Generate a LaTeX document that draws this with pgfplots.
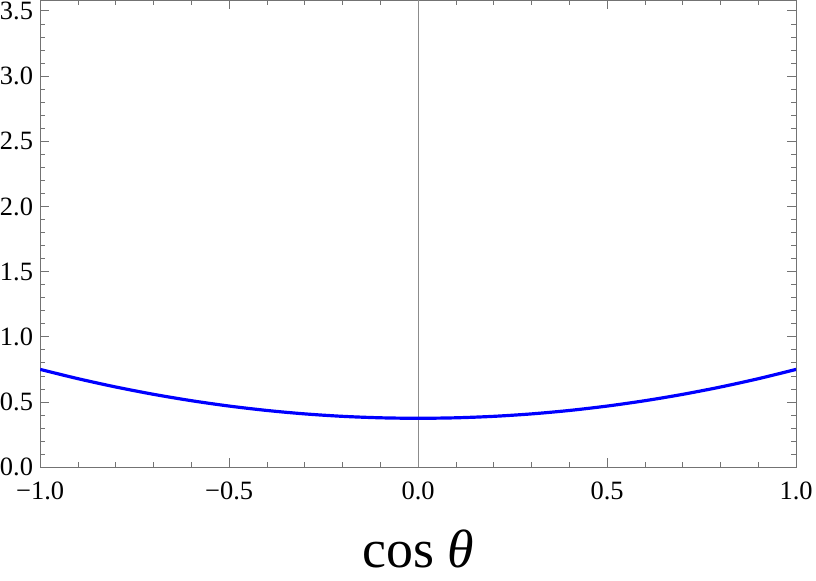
\documentclass[border=0pt]{standalone}
\usepackage{fontspec}
\setmainfont{Liberation Serif}
\usepackage{pgfplots}
\pgfplotsset{compat=1.18}
\begin{document}
\begin{tikzpicture}
\begin{axis}[
    scale only axis,
    width=758pt, height=468pt,
    xmin=-1, xmax=1, ymin=0, ymax=3.58,
    axis line style={black!55, line width=0.9pt},
    xtick={-1,-0.5,0,0.5,1},
    xticklabels={−1.0,−0.5,0.0,0.5,1.0},
    ytick={0,0.5,1,1.5,2,2.5,3,3.5},
    yticklabels={0.0,0.5,1.0,1.5,2.0,2.5,3.0,3.5},
    minor x tick num=4, minor y tick num=4,
    tick align=inside,
    major tick length=9pt, minor tick length=5pt,
    every tick/.style={black!55, line width=0.8pt},
    ticklabel style={font=\fontsize{26.5}{28}\selectfont},
    xticklabel style={anchor=base, yshift=-32pt},
    yticklabel style={anchor=east, inner sep=0pt, xshift=-7pt},
    xlabel={cos \textit{θ}},
    xlabel style={font=\fontsize{54}{58}\selectfont, inner sep=12pt,
        at={(axis description cs:0.5,0)}, anchor=base, yshift=-101pt},
]
\addplot[black!45, line width=0.8pt] coordinates {(0,0) (0,3.58)};
\addplot[blue, line width=3.2pt, smooth] coordinates {
(-1.0,0.75) (-0.9,0.67875) (-0.8,0.615) (-0.7,0.55875) (-0.6,0.51)
(-0.5,0.46875) (-0.4,0.435) (-0.3,0.40875) (-0.2,0.39) (-0.1,0.37875)
(0.0,0.375) (0.1,0.37875) (0.2,0.39) (0.3,0.40875) (0.4,0.435)
(0.5,0.46875) (0.6,0.51) (0.7,0.55875) (0.8,0.615) (0.9,0.67875) (1.0,0.75)};
\end{axis}
\end{tikzpicture}
\end{document}
